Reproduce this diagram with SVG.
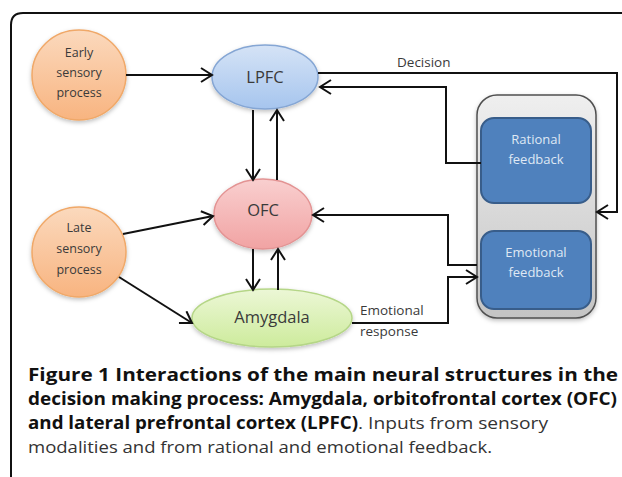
<svg xmlns="http://www.w3.org/2000/svg" width="622" height="477" viewBox="0 0 622 477">
<defs>
<linearGradient id="gOrange" x1="0" y1="0" x2="0" y2="1"><stop offset="0" stop-color="#fbd9bd"/><stop offset="1" stop-color="#f8b480"/></linearGradient>
<linearGradient id="gBlue" x1="0" y1="0" x2="0" y2="1"><stop offset="0" stop-color="#d5e3f6"/><stop offset="1" stop-color="#a6c5ee"/></linearGradient>
<linearGradient id="gPink" x1="0" y1="0" x2="0" y2="1"><stop offset="0" stop-color="#f9cfcf"/><stop offset="1" stop-color="#f1a3a3"/></linearGradient>
<linearGradient id="gGreen" x1="0" y1="0" x2="0" y2="1"><stop offset="0" stop-color="#ecf7d6"/><stop offset="1" stop-color="#cdeb9c"/></linearGradient>
<linearGradient id="gGray" x1="0" y1="0" x2="0" y2="1"><stop offset="0" stop-color="#efefef"/><stop offset="1" stop-color="#c4c4c4"/></linearGradient>
<filter id="shadow" x="-20%" y="-20%" width="140%" height="150%"><feDropShadow dx="0" dy="2" stdDeviation="2" flood-color="#000" flood-opacity="0.25"/></filter>
<marker id="arr" markerUnits="userSpaceOnUse" markerWidth="14" markerHeight="16" refX="12" refY="8" orient="auto"><path d="M1,1 L12,8 L1,15" fill="none" stroke="#111" stroke-width="2"/></marker>
</defs>
<style>
.node text{font-family:"Open Sans","Liberation Sans",sans-serif;fill:#3a3a3a;text-anchor:middle}
.small{font-size:12.5px}
.big{font-size:16.5px}
.fb text{fill:#dfe8f4;font-size:13px}
.conn path{fill:none;stroke:#111;stroke-width:2}
.lbl{font-family:"Open Sans","Liberation Sans",sans-serif;font-size:13.5px;fill:#3a3a3a}
.cap{font-family:"Open Sans","Liberation Sans",sans-serif;fill:#111}
.capb{font-weight:bold;font-size:17px}
.capr{font-size:17px;fill:#333}
</style>
<path d="M11,477 V25 Q11,13 23,13 H622" fill="none" stroke="#111" stroke-width="2"/>

<g id="early" class="node"><ellipse cx="79" cy="75" rx="47" ry="45" fill="url(#gOrange)" stroke="#f0a868" stroke-width="1.5" filter="url(#shadow)"/>
<text class="small" x="79" y="57">Early</text><text class="small" x="79" y="77">sensory</text><text class="small" x="79" y="97">process</text></g>

<g id="late" class="node"><ellipse cx="79" cy="252" rx="47" ry="45" fill="url(#gOrange)" stroke="#f0a868" stroke-width="1.5" filter="url(#shadow)"/>
<text class="small" x="79" y="232">Late</text><text class="small" x="79" y="253">sensory</text><text class="small" x="79" y="274">process</text></g>

<g id="lpfc" class="node"><ellipse cx="265" cy="77" rx="53" ry="32" fill="url(#gBlue)" stroke="#85a6d4" stroke-width="1.5" filter="url(#shadow)"/>
<text class="big" x="265" y="83">LPFC</text></g>

<g id="ofc" class="node"><ellipse cx="263" cy="214" rx="49" ry="35" fill="url(#gPink)" stroke="#e39393" stroke-width="1.5" filter="url(#shadow)"/>
<text class="big" x="263" y="216">OFC</text></g>

<g id="amygdala" class="node"><ellipse cx="272" cy="318" rx="80" ry="29" fill="url(#gGreen)" stroke="#b5d687" stroke-width="1.5" filter="url(#shadow)"/>
<text class="big" x="272" y="323">Amygdala</text></g>

<g id="feedback" class="node"><rect x="477" y="95" width="119" height="223" rx="20" fill="url(#gGray)" stroke="#505050" stroke-width="1.5" filter="url(#shadow)"/></g>

<g id="rational" class="node fb"><rect x="481" y="118" width="110" height="85" rx="13" fill="#4f81bd" stroke="#385d8a" stroke-width="2"/>
<text x="536" y="144">Rational</text><text x="536" y="164">feedback</text></g>

<g id="emotional" class="node fb"><rect x="481" y="231" width="110" height="78" rx="13" fill="#4f81bd" stroke="#385d8a" stroke-width="2"/>
<text x="536" y="257">Emotional</text><text x="536" y="277">feedback</text></g>

<g id="connectors" class="conn">
<path d="M126,75 H212" marker-end="url(#arr)"/>
<path d="M253,110 V180" marker-end="url(#arr)"/>
<path d="M277,180 V110" marker-end="url(#arr)"/>
<path d="M253,249 V290" marker-end="url(#arr)"/>
<path d="M278,290 V249" marker-end="url(#arr)"/>
<path d="M123,234 L213,216" marker-end="url(#arr)"/>
<path d="M119,277 L192,323" marker-end="url(#arr)"/>
<path d="M318,73 H617 V212 H597" marker-end="url(#arr)"/>
<path d="M481,163 H446 V87 H320" marker-end="url(#arr)"/>
<path d="M477,265 H448 V215 H313" marker-end="url(#arr)"/>
<path d="M352,323 H448 V277 H477" marker-end="url(#arr)"/>
</g>
<text class="lbl" x="397" y="67">Decision</text>
<text class="lbl" x="360" y="315">Emotional</text>
<text class="lbl" x="360" y="336">response</text>

<g class="cap">
<text class="capb" x="28" y="381" textLength="590" lengthAdjust="spacingAndGlyphs">Figure 1 Interactions of the main neural structures in the</text>
<text class="capb" x="28" y="405" textLength="589" lengthAdjust="spacingAndGlyphs">decision making process: Amygdala, orbitofrontal cortex (OFC)</text>
<text class="capb" x="28" y="429" textLength="330" lengthAdjust="spacingAndGlyphs">and lateral prefrontal cortex (LPFC)</text>
<text class="capr" x="358" y="429" textLength="190" lengthAdjust="spacingAndGlyphs">. Inputs from sensory</text>
<text class="capr" x="28" y="453" textLength="464" lengthAdjust="spacingAndGlyphs">modalities and from rational and emotional feedback.</text>
</g>
</svg>
